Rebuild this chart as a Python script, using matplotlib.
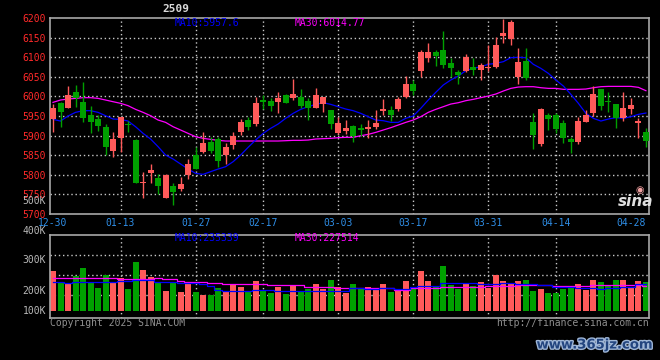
import numpy as np
import matplotlib.pyplot as plt
import matplotlib.patheffects as pe

## DATA

# trading days shown (SR2509 daily)
dates = ['12-30', '12-31', '01-02', '01-03', '01-06', '01-07', '01-08', '01-09', '01-10',
         '01-13', '01-14', '01-15', '01-16', '01-17', '01-20', '01-21', '01-22', '01-23', '01-24',
         '01-27', '02-05', '02-06', '02-07', '02-10', '02-11', '02-12', '02-13', '02-14',
         '02-17', '02-18', '02-19', '02-20', '02-21', '02-24', '02-25', '02-26', '02-27', '02-28',
         '03-03', '03-04', '03-05', '03-06', '03-07', '03-10', '03-11', '03-12', '03-13', '03-14',
         '03-17', '03-18', '03-19', '03-20', '03-21', '03-24', '03-25', '03-26', '03-27', '03-28',
         '03-31', '04-01', '04-02', '04-03', '04-07', '04-08', '04-09', '04-10', '04-11',
         '04-14', '04-15', '04-16', '04-17', '04-18', '04-21', '04-22', '04-23', '04-24', '04-25',
         '04-28', '04-29', '04-30']

opens = [5941.4, 5983, 5969.6, 6011.4, 5985, 5952.5, 5941.4, 5921.8, 5860.4, 5894.5,
         5930.5, 5888.5, 5779, 5805, 5791.3, 5741, 5770.8, 5763, 5800, 5850,
         5858.7, 5884, 5891, 5850, 5875.7, 5909.8, 5939.7, 5929.5, 5990, 5988.3,
         5986.6, 6003.7, 5995.2, 5998.6, 5988.3, 5971.3, 5979.8, 5965.3, 5905.6, 5911.5,
         5924.3, 5918.4, 5916.7, 5921.8, 5962.7, 5965.3, 5968, 5998.6, 6031.8, 6065,
         6097.5, 6114.6, 6118.8, 6086.4, 6063.4, 6066, 6076.2, 6067.7, 6073.6, 6076.2,
         6155.5, 6147, 6050.6, 6091.5, 5935.4, 5878.3, 5952.5, 5952.5, 5931, 5891,
         5882.5, 5935.4, 5958.5, 6019, 5988.3, 5979.8, 5945.7, 5968, 5933, 5909.8]
highs = [5979.8, 5985, 6027.6, 6029, 6037.8, 5976.4, 5952.5, 5929.5, 5909.8, 5948.2,
         5937, 5891, 5807.5, 5827, 5800.7, 5800.7, 5779.3, 5793, 5840, 5870.6,
         5908.1, 5895.3, 5897, 5881, 5909.8, 5942.3, 5947.4, 5998.6, 6003.7, 5995,
         6012.2, 6005.4, 6044.6, 6019, 5995, 6022.4, 5999.4, 5965.3, 5948.2, 5939.7,
         5927, 5929.5, 5939.7, 5965.3, 5993.4, 5976.4, 5999.4, 6052.3, 6042, 6118.8,
         6136.8, 6118.8, 6167.5, 6097.5, 6067.7, 6107.7, 6099.2, 6086.4, 6131.6, 6151.3,
         6199, 6195.6, 6123.1, 6123.1, 5958.5, 5971.3, 5958.5, 5958.5, 5939.7, 5897,
         5948.2, 5965.3, 6026.7, 6019, 6010.5, 5979.8, 6010.5, 5995, 5944, 5918.4]
lows = [5908, 5923, 5969.6, 5974, 5935, 5905.6, 5911.6, 5850.1, 5845.9, 5858.7,
        5910, 5779, 5741, 5779, 5750.3, 5741, 5722.2, 5759, 5788.7, 5815,
        5854.4, 5856, 5820, 5828, 5865.5, 5901.3, 5914.1, 5924.4, 5968, 5963.6,
        5958.5, 5982, 5991.7, 5971.3, 5940.6, 5971.3, 5959.3, 5916.7, 5903, 5903.9,
        5884, 5899.6, 5894.5, 5916.7, 5952.5, 5937, 5962.7, 5996.9, 6003.7, 6050.6,
        6089, 6077.9, 6073.6, 6050.6, 6031.8, 6063.4, 6054.9, 6042, 6065, 6072,
        6135.9, 6131.6, 6031, 6042, 5865.5, 5874, 5914.1, 5905.6, 5881.7, 5856,
        5878.3, 5935.4, 5950, 5965.3, 5961, 5920, 5937, 5954, 5894.5, 5871.5]
closes = [5969.6, 5961, 6003.7, 5995, 5945.7, 5935.4, 5924.3, 5871.5, 5891, 5948.2,
          5926, 5779.3, 5782, 5811, 5770.8, 5799, 5755.5, 5776, 5827, 5815,
          5881.7, 5860.4, 5835.6, 5870.6, 5898.7, 5935.4, 5921.8, 5983, 5986.6, 5976.4,
          5996, 5984, 6005.4, 5976.4, 5971.3, 6003.7, 5999.4, 5929.5, 5932.9, 5920,
          5899.6, 5914, 5921.8, 5932.9, 5968, 5952.5, 5993.4, 6031.8, 6014, 6114.6,
          6114.6, 6103.5, 6080.5, 6073.6, 6054.9, 6101.8, 6067.7, 6080.5, 6076.2, 6131.6,
          6163.2, 6191.3, 6089, 6048, 5901.3, 5967.9, 5943, 5916.7, 5894.5, 5883.4,
          5937, 5952.5, 6006.2, 5976.4, 5986.6, 5945.7, 5971.3, 5978, 5937, 5887]

# price moving averages
ma10 = [5941.4, 5937.1, 5949.9, 5959.3, 5963.6, 5963.6, 5959.3, 5950.8, 5942.3, 5941.4,
        5937.1, 5922.6, 5905.6, 5891.1, 5871.5, 5850.1, 5839.9, 5827.1, 5814.3, 5803.2,
        5800.7, 5807.5, 5814.3, 5820.3, 5833.1, 5850.1, 5869.8, 5888.5, 5905.6, 5918.4,
        5929.5, 5944, 5956.8, 5967, 5973.8, 5979.8, 5984, 5979.8, 5973.8, 5967.9,
        5963.6, 5956.8, 5948.2, 5939.7, 5938, 5933.7, 5933.7, 5944, 5950, 5969.6,
        5990.9, 6010.5, 6029.3, 6042.1, 6052.3, 6066, 6071.9, 6076.2, 6082.2, 6084.7,
        6089, 6099.2, 6100.1, 6099.2, 6082.2, 6071.9, 6059.1, 6042.1, 6026.7, 6005.4,
        5982.4, 5956.8, 5944, 5937.1, 5942.3, 5945.7, 5944, 5948.2, 5954.2, 5957.6]
ma30 = [5984.9, 5990.9, 5993.4, 5995.1, 5996.9, 5996.9, 5995.1, 5990.9, 5986.6, 5982.4,
        5976.4, 5967, 5959.3, 5950.8, 5939.7, 5933.7, 5922.6, 5914.1, 5905.6, 5897,
        5892.8, 5890.2, 5887.7, 5886, 5886, 5886, 5886, 5886, 5886, 5886,
        5886, 5886.8, 5887.7, 5887.7, 5888.5, 5891.1, 5892, 5892.8, 5894.5, 5895.4,
        5895.4, 5899.6, 5903, 5908.1, 5914.1, 5920.1, 5926.9, 5933.7, 5939.7, 5948.2,
        5959.3, 5967, 5973.8, 5980.6, 5984, 5989.2, 5992.6, 5996.9, 6001.1, 6006.2,
        6013.9, 6020.7, 6024.1, 6025, 6025, 6022.4, 6020.7, 6020.7, 6018.2, 6018.2,
        6018.2, 6019, 6022.4, 6025, 6025.8, 6025.8, 6025.8, 6025.8, 6023.3, 6014.77]

# volume in thousands
volumes = [302, 243, 240, 277, 319, 248, 216, 282, 248, 265,
           211, 348, 307, 270, 243, 201, 243, 196, 240, 196,
           181, 181, 218, 201, 235, 221, 201, 252, 206, 193,
           221, 186, 227, 198, 211, 237, 210, 257, 223, 193,
           237, 215, 221, 215, 237, 196, 210, 252, 210, 302,
           252, 223, 328, 232, 211, 237, 227, 248, 215, 282,
           252, 243, 252, 257, 201, 211, 191, 191, 213, 220,
           237, 206, 257, 247, 228, 257, 257, 223, 252, 247]
vol_ma10 = [248, 248, 240, 248, 248, 248, 248, 248, 248, 253,
            253, 257, 257, 257, 248, 248, 248, 243, 243, 243,
            235, 226, 206, 201, 201, 201, 201, 206, 206, 206,
            203, 203, 203, 203, 203, 203, 203, 203, 203, 203,
            215, 215, 210, 210, 215, 215, 210, 210, 220, 226,
            226, 226, 240, 240, 240, 240, 240, 235, 235, 235,
            240, 240, 237, 237, 237, 232, 232, 222, 222, 222,
            215, 215, 215, 210, 215, 215, 222, 222, 235, 235.339]
vol_ma30 = [265, 265, 265, 265, 265, 265, 265, 265, 265, 260,
            260, 260, 262, 262, 265, 260, 260, 253, 248, 248,
            248, 243, 243, 237, 237, 237, 237, 235, 235, 230,
            230, 230, 230, 230, 220, 220, 220, 220, 215, 215,
            215, 215, 215, 215, 215, 215, 206, 206, 215, 215,
            215, 215, 220, 220, 220, 220, 220, 220, 226, 226,
            226, 226, 232, 232, 232, 232, 232, 226, 226, 226,
            226, 226, 232, 232, 232, 232, 232, 232, 232, 227.514]

# labelled dates and vertical grid dates
label_dates = ['12-30', '01-13', '01-27', '02-17', '03-03', '03-17', '03-31', '04-14', '04-28']
grid_dates = ['01-13', '01-27', '02-17', '03-03', '03-17', '03-31', '04-14']
price_ticks = [5700, 5750, 5800, 5850, 5900, 5950, 6000, 6050, 6100, 6150, 6200]
vol_labels = ['500K', '400K', '300K', '200K', '100K']

## STYLE

W, H = 660, 360
RED = '#ff5a5a'
GREEN = '#00a000'
GRID = '#c8c8c8'
FRAME = '#a8a8a8'
MONO = 'DejaVu Sans Mono'


# converts pixel position to figure fraction
def px(x, y):
    return x / W, 1 - y / H


def frame(ax):
    ax.set_facecolor('black')
    for s in ax.spines.values():
        s.set_color(FRAME)
        s.set_linewidth(1.2)


def main():
    n = len(dates)
    x = np.arange(n)
    o = np.array(opens)
    c = np.array(closes)
    up = c >= o
    colors = [RED if u else GREEN for u in up]

    fig = plt.figure(figsize=(W / 100, H / 100), dpi=100, facecolor='black')
    ax1 = fig.add_axes([50 / W, 1 - 213.7 / H, 599.3 / W, 195.4 / H])
    ax2 = fig.add_axes([50 / W, 1 - 318.3 / H, 599.3 / W, 83.6 / H])
    frame(ax1)
    frame(ax2)

    gx = [dates.index(d) for d in grid_dates]

    # price panel
    ax1.set_xlim(-0.4, 79.45)
    ax1.set_ylim(5700, 6200)
    for v in price_ticks[1:-1]:
        ax1.axhline(v, color=GRID, lw=1, ls=(0, (1, 2)), zorder=1)
    for g in gx:
        ax1.axvline(g, color=GRID, lw=1, ls=(0, (1, 2)), zorder=1)
        ax2.axvline(g, color=GRID, lw=1, ls=(0, (1, 2)), zorder=1)

    ax1.plot(x, ma30, color='#ff00ff', lw=0.9, zorder=2)
    ax1.plot(x, ma10, color='#0000ff', lw=0.9, zorder=2)

    ax1.vlines(x, lows, highs, colors=colors, lw=1, zorder=3)
    body = np.maximum(np.abs(c - o), 2.5)
    ax1.bar(x, body, bottom=np.minimum(o, c), width=0.8, color=colors, zorder=4)

    ax1.set_yticks(price_ticks)
    ax1.set_yticklabels([str(v) for v in price_ticks], color='#ff2a2a',
                        fontsize=7, family=MONO)
    ax1.set_xticks([dates.index(d) for d in label_dates])
    ax1.set_xticklabels(label_dates, color='#2f8fe8', fontsize=7, family=MONO)
    ax1.tick_params(length=0, pad=3)

    # volume panel
    ax2.set_xlim(-0.4, 79.45)
    ax2.set_ylim(63, 486)
    for v in [179.4, 280.6, 381.8]:
        ax2.axhline(v, color=GRID, lw=1, ls=(0, (1, 2)), zorder=1)
    vol = np.array(volumes)
    ax2.bar(x, vol - 100, bottom=100, width=0.8, color=colors, zorder=2)
    ax2.plot(x, vol_ma30, color='#ff00ff', lw=0.9, drawstyle='steps-mid', zorder=3)
    ax2.plot(x, vol_ma10, color='#0000ff', lw=0.9, drawstyle='steps-mid', zorder=3)
    ax2.set_xticks([])
    ax2.set_yticks([])

    # volume labels sit at fixed spots on the left
    for lab, yy in zip(vol_labels, [201, 231, 260, 291, 310.5]):
        fig.text(*px(46, yy), lab, color='#b8b8b8', fontsize=7, family=MONO,
                 ha='right', va='center')

    # legends
    fig.text(*px(175, 23), 'MA10:%.1f' % ma10[-1], color='#0000ff', fontsize=7,
             family=MONO, va='center')
    fig.text(*px(295, 23), 'MA30:%.2f' % ma30[-1], color='#ff00ff', fontsize=7,
             family=MONO, va='center')
    fig.text(*px(175, 238), 'MA10:%d' % round(vol_ma10[-1] * 1000), color='#0000ff',
             fontsize=7, family=MONO, va='center')
    fig.text(*px(295, 238), 'MA30:%d' % round(vol_ma30[-1] * 1000), color='#ff00ff',
             fontsize=7, family=MONO, va='center')

    # title and footer
    fig.text(*px(176, 9), '2509', color='#d8d8d8', fontsize=8, family=MONO,
             weight='bold', ha='center', va='center')
    fig.text(*px(50, 323), 'Copyright 2025 SINA.COM', color='#909090', fontsize=7,
             family=MONO, va='center')
    fig.text(*px(649, 323), 'http://finance.sina.com.cn', color='#909090', fontsize=7,
             family=MONO, ha='right', va='center')

    # sina logo
    fig.text(*px(640, 190), '\u25c9', color='#f0a0a0', fontsize=7, ha='center', va='center')
    fig.text(*px(636, 201), 'sina', color='#e0e0e0', fontsize=11, style='italic',
             weight='bold', ha='center', va='center')

    # watermark
    fig.text(*px(595, 345), 'www.365jz.com', color='#23457f', fontsize=9.5, weight='bold',
             ha='center', va='center',
             path_effects=[pe.withStroke(linewidth=2, foreground='#9fb6d6')])

    fig.savefig('out.png', dpi=100, facecolor='black')


main()
